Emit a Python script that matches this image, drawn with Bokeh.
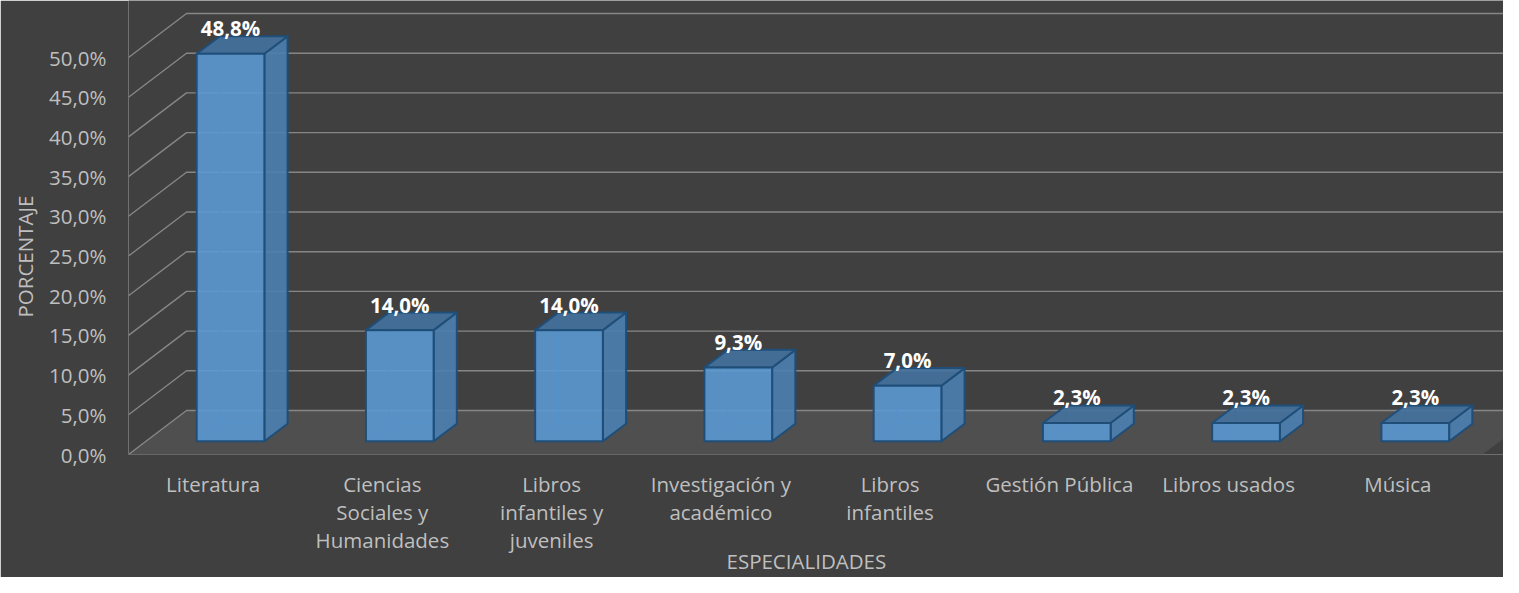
from bokeh.plotting import figure
from bokeh.models import Range1d, FixedTicker, CustomJSTickFormatter, Title
from bokeh.core.properties import value
from bokeh.embed import file_html
from bokeh.resources import INLINE

# ---------------- data ----------------
categories = ["Literatura", "Ciencias Sociales y Humanidades", "Libros infantiles y juveniles",
              "Investigación y académico", "Libros infantiles", "Gestión Pública",
              "Libros usados", "Música"]
category_tick_labels = ["Literatura", "Ciencias\nSociales y\nHumanidades", "Libros\ninfantiles y\njuveniles",
                        "Investigación y\nacadémico", "Libros\ninfantiles", "Gestión Pública",
                        "Libros usados", "Música"]
percentages = [48.8, 14.0, 14.0, 9.3, 7.0, 2.3, 2.3, 2.3]
y_ticks = [0, 5, 10, 15, 20, 25, 30, 35, 40, 45, 50]
y_tick_labels = ["0,0%", "5,0%", "10,0%", "15,0%", "20,0%", "25,0%", "30,0%", "35,0%", "40,0%", "45,0%", "50,0%"]
value_labels = [f"{v:.1f}%".replace(".", ",") for v in percentages]
x_title = "ESPECIALIDADES"
y_title = "PORCENTAJE"

# ---------------- layout / style ----------------
W, H = 1503, 577
LEFT, BOTTOM = 128, 123
SLOT_PX = 169.25
PX_PER_PCT = 7.94
X_END = (W - LEFT) / SLOT_PX
Y_END = (H - BOTTOM) / PX_PER_PCT
DX = 58 / SLOT_PX          # full depth offset in x data units
DY = 44 / PX_PER_PCT       # full depth offset in y data units
BAR_W = 0.4
D0, D1 = 0.3, 0.7          # bar front / back depth fractions

BG = "#404040"
FLOOR = "#4f4f4f"
GRID = "#868686"
TXT = "#bfbfbf"
FONT = "Open Sans"
FS = "20.5px"
EDGE = "#1f4e79"

n = len(categories)

p = figure(width=W, height=H, output_backend="svg", toolbar_location=None, title=None,
           x_range=Range1d(0, X_END), y_range=Range1d(0, Y_END),
           min_border_left=LEFT, min_border_right=0, min_border_top=0, min_border_bottom=BOTTOM)
p.background_fill_color = BG
p.border_fill_color = BG
p.outline_line_color = None
p.xgrid.visible = False
p.ygrid.visible = False

# floor
p.patch([0, n, n + DX, DX], [0, 0, DY, DY], fill_color=FLOOR, line_color=None)

# gridlines (side wall diagonal + back wall horizontal)
gx = [[0, DX, n + DX] for t in y_ticks]
gy = [[t, t + DY, t + DY] for t in y_ticks]
p.multi_line(gx, gy, line_color=GRID, line_width=1.4)

# bars
hid_x, hid_y = [], []
side_x, side_y, top_x, top_y, front_x, front_y = [], [], [], [], [], []
lab_x, lab_y = [], []
for i, v in enumerate(percentages):
    x0 = i + (1 - BAR_W) / 2
    x1 = x0 + BAR_W
    fx0, fx1, fb, ft = x0 + D0 * DX, x1 + D0 * DX, D0 * DY, v + D0 * DY
    bx0, bx1, bb, bt = x0 + D1 * DX, x1 + D1 * DX, D1 * DY, v + D1 * DY
    hid_x += [[bx0, bx0], [bx0, bx1], [bx0, fx0]]
    hid_y += [[bb, bt], [bb, bb], [bb, fb]]
    side_x.append([fx1, bx1, bx1, fx1]); side_y.append([fb, bb, bt, ft])
    top_x.append([fx0, fx1, bx1, bx0]); top_y.append([ft, ft, bt, bt])
    front_x.append([fx0, fx1, fx1, fx0]); front_y.append([fb, fb, ft, ft])
    lab_x.append((fx0 + fx1) / 2); lab_y.append(bt)

p.multi_line(hid_x, hid_y, line_color=EDGE, line_width=1.5, line_alpha=0.8)
p.patches(side_x, side_y, fill_color="#4d7fb0", fill_alpha=0.9, line_color=EDGE, line_width=2, line_join="round")
p.patches(top_x, top_y, fill_color="#44729f", fill_alpha=0.9, line_color=EDGE, line_width=2, line_join="round")
p.patches(front_x, front_y, fill_color="#5b9bd5", fill_alpha=0.88, line_color=EDGE, line_width=2, line_join="round")

p.text(lab_x, lab_y, text=value_labels, text_font=value(FONT), text_font_size=FS,
       text_font_style="bold", text_color="#ffffff", text_align="center",
       text_baseline="alphabetic", y_offset=-8)

# axes
ya = p.yaxis[0]
ya.ticker = FixedTicker(ticks=y_ticks)
ya.formatter = CustomJSTickFormatter(args=dict(labels=y_tick_labels),
                                     code="return labels[Math.round(tick / 5)];")
ya.axis_line_color = None
ya.major_tick_line_color = None
ya.minor_tick_line_color = None
ya.major_tick_out = 0
ya.major_label_standoff = 22
ya.major_label_text_font = FONT
ya.major_label_text_font_size = FS
ya.major_label_text_color = TXT

xa = p.xaxis[0]
xa.ticker = FixedTicker(ticks=[i + 0.5 for i in range(n)])
xa.formatter = CustomJSTickFormatter(args=dict(labels=category_tick_labels),
                                     code="return labels[Math.round(tick - 0.5)];")
xa.axis_line_color = None
xa.major_tick_line_color = None
xa.minor_tick_line_color = None
xa.major_tick_out = 0
xa.major_label_standoff = 15
xa.major_label_text_font = FONT
xa.major_label_text_font_size = FS
xa.major_label_text_color = TXT
xa.major_label_text_line_height = 1.0

# axis titles
p.add_layout(Title(text=y_title, align="left", offset=137, standoff=16,
                   text_font=FONT, text_font_size=FS, text_font_style="normal",
                   text_color=TXT), "left")
p.add_layout(Title(text=x_title, align="left", offset=598, standoff=-20, vertical_align="top",
                   text_font=FONT, text_font_size=FS, text_font_style="normal",
                   text_color=TXT), "below")

open("out.html", "w").write(file_html(p, INLINE))
